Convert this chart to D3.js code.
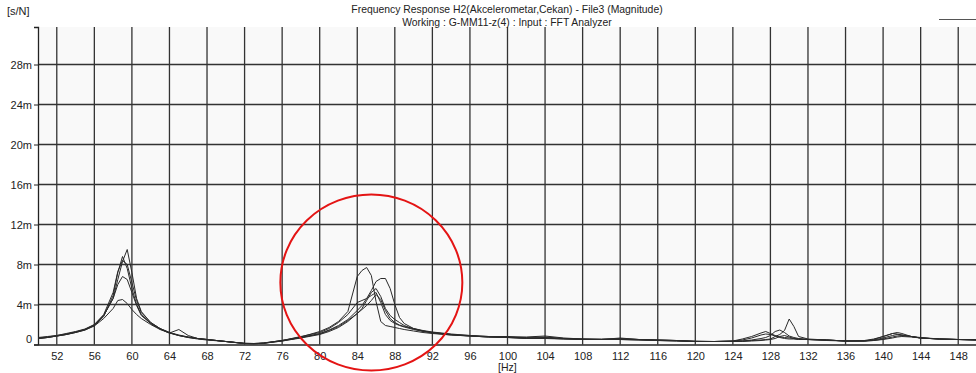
<!DOCTYPE html>
<html>
<head>
<meta charset="utf-8">
<script src="https://cdn.jsdelivr.net/npm/d3@7"></script>
<style>
  body { margin: 0; background: #fff; }
  svg text { font-family: "Liberation Sans", Arial, sans-serif; fill: #222; }
</style>
</head>
<body>
<div id="chart"></div>
<script>
// frequency points [Hz], shared by all records
const freqs = [50, 51, 52, 53, 54, 55, 56, 57, 58, 58.5, 59, 59.5, 60, 60.5, 61, 62, 63, 64, 65, 66, 67, 68, 70, 72, 73, 74, 76, 78,
  80, 81, 82, 83, 84, 84.5, 85, 85.5, 86, 86.5, 87, 87.5, 88, 88.5, 89, 90, 91, 92, 94, 96, 98, 100, 102, 104, 106, 108, 110,
  112, 114, 116, 118, 120, 122, 124, 125, 126, 127, 127.5, 128, 128.5, 129, 129.5, 130, 130.5, 131, 132, 134, 136, 138, 139,
  140, 141, 141.5, 142, 143, 144, 146, 148, 150];

// magnitude [m s/N] per record
const rec1 = [0.65, 0.75, 0.9, 1.05, 1.25, 1.5, 1.95, 2.9, 4.6, 6.5, 8.3, 9.5, 7.2, 4.6, 3.3, 2.2, 1.6, 1.2, 0.95, 0.75, 0.6, 0.5, 0.3, 0.12, 0.1, 0.15, 0.4, 0.75,
  1.3, 1.7, 2.3, 3.3, 6.8, 7.4, 7.7, 6.9, 4.3, 2.3, 1.9, 1.8, 1.7, 1.6, 1.5, 1.35, 1.2, 1.1, 0.95, 0.85, 0.75, 0.7, 0.7, 0.75, 0.6, 0.55, 0.55,
  0.6, 0.5, 0.45, 0.4, 0.3, 0.3, 0.35, 0.35, 0.4, 0.45, 0.5, 0.55, 0.8, 1.0, 1.4, 2.55, 1.8, 0.8, 0.55, 0.45, 0.35, 0.35, 0.5,
  0.8, 1.1, 1.2, 1.1, 0.8, 0.65, 0.55, 0.5, 0.45];
const rec2 = [0.6, 0.7, 0.85, 1.0, 1.2, 1.45, 1.9, 2.8, 4.9, 7.2, 8.8, 7.6, 5.6, 4.0, 3.0, 2.1, 1.55, 1.15, 0.9, 0.7, 0.6, 0.5, 0.3, 0.1, 0.08, 0.12, 0.35, 0.7,
  1.1, 1.45, 1.9, 2.5, 3.4, 3.9, 4.6, 5.4, 6.3, 6.6, 6.6, 5.6, 4.0, 2.7, 2.1, 1.6, 1.35, 1.2, 1.0, 0.9, 0.8, 0.75, 0.65, 0.7, 0.6, 0.55, 0.5,
  0.55, 0.5, 0.45, 0.4, 0.35, 0.3, 0.35, 0.55, 0.8, 1.15, 1.3, 1.1, 0.9, 0.75, 0.7, 0.65, 0.6, 0.55, 0.5, 0.45, 0.35, 0.4, 0.55,
  0.8, 1.1, 1.05, 0.95, 0.8, 0.7, 0.55, 0.5, 0.45];
const rec3 = [0.7, 0.8, 0.9, 1.1, 1.3, 1.55, 2.0, 3.0, 5.2, 7.3, 8.4, 8.0, 6.2, 4.4, 3.2, 2.2, 1.6, 1.2, 0.9, 0.75, 0.6, 0.5, 0.3, 0.1, 0.08, 0.12, 0.35, 0.65,
  1.0, 1.3, 1.7, 2.3, 3.1, 3.6, 4.4, 5.2, 5.6, 4.8, 3.6, 2.9, 2.5, 2.2, 1.9, 1.55, 1.35, 1.2, 1.0, 0.85, 0.75, 0.7, 0.6, 0.6, 0.55, 0.5, 0.5,
  0.5, 0.45, 0.4, 0.35, 0.3, 0.3, 0.35, 0.45, 0.65, 0.95, 1.05, 1.0, 0.85, 0.7, 0.6, 0.55, 0.55, 0.5, 0.5, 0.4, 0.35, 0.35, 0.45,
  0.65, 0.9, 1.0, 0.95, 0.8, 0.65, 0.55, 0.5, 0.45];
const rec4 = [0.6, 0.7, 0.85, 1.0, 1.25, 1.5, 1.95, 2.9, 4.6, 6.0, 6.8, 6.5, 5.2, 3.9, 2.9, 2.1, 1.55, 1.15, 0.9, 0.7, 0.55, 0.45, 0.3, 0.12, 0.1, 0.15, 0.4, 0.8,
  1.2, 1.6, 2.2, 3.0, 4.2, 4.4, 4.6, 4.9, 5.2, 4.2, 3.0, 2.4, 2.1, 1.9, 1.75, 1.5, 1.3, 1.15, 0.95, 0.85, 0.75, 0.7, 0.6, 0.65, 0.55, 0.5, 0.5,
  0.5, 0.45, 0.4, 0.35, 0.3, 0.3, 0.3, 0.35, 0.45, 0.6, 0.7, 0.9, 1.3, 1.45, 1.2, 0.85, 0.7, 0.6, 0.5, 0.45, 0.35, 0.35, 0.4,
  0.55, 0.75, 0.85, 0.9, 0.8, 0.65, 0.55, 0.5, 0.45];
const rec5 = [0.6, 0.7, 0.85, 1.0, 1.2, 1.45, 1.85, 2.6, 3.6, 4.4, 4.5, 4.1, 3.5, 3.0, 2.6, 2.0, 1.5, 1.15, 1.5, 0.9, 0.6, 0.5, 0.3, 0.1, 0.08, 0.12, 0.4, 0.7,
  1.05, 1.4, 1.8, 2.4, 3.1, 3.5, 3.9, 4.4, 5.0, 4.5, 3.4, 2.6, 2.2, 1.95, 1.8, 1.6, 1.4, 1.25, 1.05, 0.9, 0.8, 0.8, 0.75, 0.85, 0.65, 0.55, 0.5,
  0.65, 0.5, 0.45, 0.4, 0.3, 0.3, 0.3, 0.3, 0.35, 0.4, 0.45, 0.5, 0.6, 0.8, 0.9, 0.75, 0.6, 0.55, 0.5, 0.45, 0.35, 0.35, 0.4,
  0.5, 0.65, 0.75, 0.8, 0.75, 0.65, 0.55, 0.5, 0.5];
const records = [rec1, rec2, rec3, rec4, rec5];

const xTicks = d3.range(52, 149, 4);
const yTicks = [0, 4, 8, 12, 16, 20, 24, 28];

const titleLines = [
  'Frequency Response H2(Akcelerometar,Cekan) - File3 (Magnitude)',
  'Working : G-MM11-z(4) : Input : FFT Analyzer'
];

const width = 976;
const height = 373;
const plotLeft = 38, plotTop = 27, plotRight = 977, plotBottom = 344.5;

const x = d3.scaleLinear().domain([50, 150]).range([plotLeft, plotRight]);
const y = d3.scaleLinear().domain([0, 31.75]).range([plotBottom, plotTop]);

const svg = d3.select('#chart').append('svg')
  .attr('width', width)
  .attr('height', height);

svg.append('rect')
  .attr('x', plotLeft).attr('y', plotTop)
  .attr('width', plotRight - plotLeft).attr('height', plotBottom - plotTop)
  .attr('fill', '#f9f9f9');

// grid
svg.append('g')
  .selectAll('line')
  .data(xTicks)
  .join('line')
    .attr('x1', d => x(d)).attr('x2', d => x(d))
    .attr('y1', plotTop).attr('y2', plotBottom)
    .attr('stroke', '#333').attr('stroke-width', 1.3);

svg.append('g')
  .selectAll('line')
  .data(yTicks.filter(d => d > 0))
  .join('line')
    .attr('x1', plotLeft).attr('x2', plotRight)
    .attr('y1', d => y(d)).attr('y2', d => y(d))
    .attr('stroke', '#333').attr('stroke-width', 1.3);

// axes
const yAxis = d3.axisLeft(y)
  .tickValues(yTicks)
  .tickSize(4)
  .tickPadding(2)
  .tickFormat(d => (d === 0 ? '0' : `${d}m`));

const yg = svg.append('g')
  .attr('transform', `translate(${plotLeft},0)`)
  .call(yAxis);
yg.select('.domain').attr('stroke', '#222').attr('stroke-width', 1.3);
yg.selectAll('.tick line').attr('stroke', '#222');
yg.selectAll('text').attr('font-size', 11).attr('fill', '#222')
  .attr('dy', d => (d === 0 ? '-0.2em' : '0.32em'));

const xAxis = d3.axisBottom(x)
  .tickValues(xTicks)
  .tickSize(0)
  .tickPadding(8)
  .tickFormat(d3.format('d'));

const xg = svg.append('g')
  .attr('transform', `translate(0,${plotBottom})`)
  .call(xAxis);
xg.select('.domain').attr('stroke', '#222').attr('stroke-width', 1.3);
xg.selectAll('text').attr('font-size', 11).attr('fill', '#222');

// curves
const line = d3.line()
  .x((d, i) => x(freqs[i]))
  .y(d => y(d));

svg.append('g')
  .selectAll('path')
  .data(records)
  .join('path')
    .attr('d', line)
    .attr('fill', 'none')
    .attr('stroke', '#2a2a2a')
    .attr('stroke-width', 1);

// red mark round the second resonance
svg.append('ellipse')
  .attr('cx', x(85.5)).attr('cy', y(6.2))
  .attr('rx', 91).attr('ry', 88)
  .attr('fill', 'none')
  .attr('stroke', '#e41414')
  .attr('stroke-width', 2);

// texts
svg.append('g')
  .selectAll('text')
  .data(titleLines)
  .join('text')
    .attr('x', 507)
    .attr('y', (d, i) => 13 + i * 12.5)
    .attr('text-anchor', 'middle')
    .attr('font-size', 10.4)
    .text(d => d);

svg.append('text')
  .attr('x', 7).attr('y', 15)
  .attr('font-size', 11)
  .text('[s/N]');

svg.append('text')
  .attr('x', 498).attr('y', 370.5)
  .attr('font-size', 10.5)
  .text('[Hz]');

svg.append('line')
  .attr('x1', 939).attr('x2', 976)
  .attr('y1', 19.5).attr('y2', 19.5)
  .attr('stroke', '#555');
</script>
</body>
</html>
